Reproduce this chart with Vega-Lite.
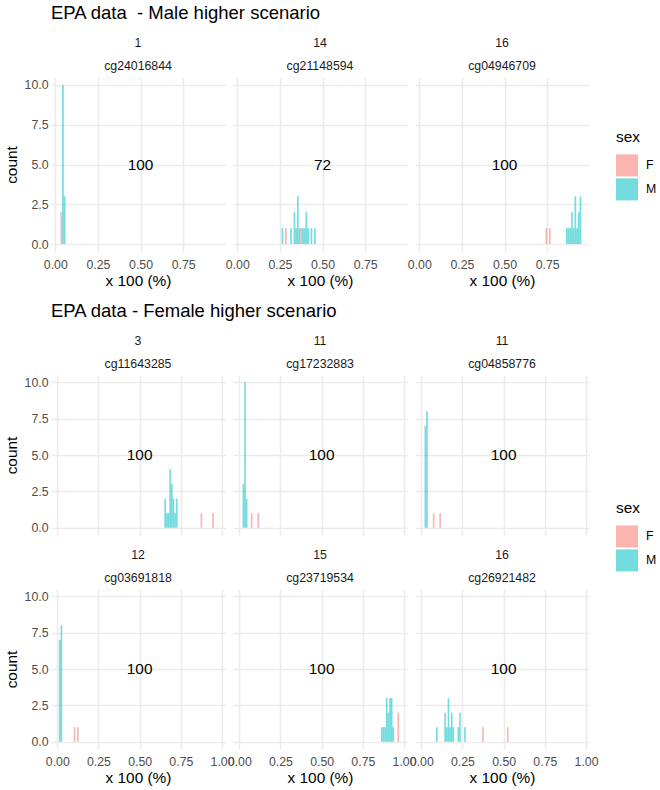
{
  "$schema": "https://vega.github.io/schema/vega-lite/v6.json",
  "background": "white",
  "padding": {"left": 4, "top": 4, "right": 0, "bottom": 0},
  "config": {
    "font": "Liberation Sans",
    "view": {"stroke": null},
    "axis": {
      "domain": false,
      "ticks": false,
      "gridColor": "#EBEBEB",
      "labelColor": "#4D4D4D",
      "labelFontSize": 12.3,
      "labelOverlap": false,
      "labelFlush": false,
      "titleFontSize": 15.4,
      "titleFontWeight": "normal",
      "titleColor": "black"
    },
    "header": {
      "title": null,
      "labelFontSize": 12.3,
      "labelColor": "#1A1A1A",
      "labelLineHeight": 23,
      "labelPadding": -8,
      "labelBaseline": "bottom"
    },
    "title": {
      "fontSize": 18.5,
      "fontWeight": "normal",
      "color": "black",
      "anchor": "start",
      "frame": "group"
    },
    "legend": {
      "titleFontSize": 15.4,
      "titleFontWeight": "normal",
      "titleColor": "black",
      "labelFontSize": 12.3,
      "labelColor": "black",
      "symbolType": "square",
      "symbolSize": 484,
      "symbolStrokeWidth": 0,
      "symbolOpacity": 0.55,
      "rowPadding": 2,
      "labelOffset": 8,
      "titlePadding": 9
    }
  },
  "datasets": {
    "male": [
      {"panel": "1|cg24016844", "lab": "100"},
      {"panel": "14|cg21148594", "lab": "72"},
      {"panel": "16|cg04946709", "lab": "100"},
      {"panel": "1|cg24016844", "sex": "F", "x": 0.03, "x2": 0.04, "count": 2},
      {"panel": "1|cg24016844", "sex": "M", "x": 0.04, "x2": 0.05, "count": 10},
      {"panel": "1|cg24016844", "sex": "M", "x": 0.05, "x2": 0.06, "count": 3},
      {"panel": "14|cg21148594", "sex": "M", "x": 0.26, "x2": 0.27, "count": 1},
      {"panel": "14|cg21148594", "sex": "F", "x": 0.28, "x2": 0.29, "count": 1},
      {"panel": "14|cg21148594", "sex": "M", "x": 0.31, "x2": 0.32, "count": 1},
      {"panel": "14|cg21148594", "sex": "M", "x": 0.33, "x2": 0.34, "count": 2},
      {"panel": "14|cg21148594", "sex": "M", "x": 0.34, "x2": 0.35, "count": 1},
      {"panel": "14|cg21148594", "sex": "M", "x": 0.35, "x2": 0.36, "count": 3},
      {"panel": "14|cg21148594", "sex": "M", "x": 0.36, "x2": 0.37, "count": 1},
      {"panel": "14|cg21148594", "sex": "F", "x": 0.37, "x2": 0.38, "count": 1},
      {"panel": "14|cg21148594", "sex": "M", "x": 0.38, "x2": 0.39, "count": 1},
      {"panel": "14|cg21148594", "sex": "M", "x": 0.39, "x2": 0.40, "count": 1},
      {"panel": "14|cg21148594", "sex": "M", "x": 0.40, "x2": 0.41, "count": 2},
      {"panel": "14|cg21148594", "sex": "M", "x": 0.41, "x2": 0.42, "count": 1},
      {"panel": "14|cg21148594", "sex": "M", "x": 0.43, "x2": 0.44, "count": 1},
      {"panel": "14|cg21148594", "sex": "M", "x": 0.45, "x2": 0.46, "count": 1},
      {"panel": "16|cg04946709", "sex": "F", "x": 0.74, "x2": 0.75, "count": 1},
      {"panel": "16|cg04946709", "sex": "F", "x": 0.76, "x2": 0.77, "count": 1},
      {"panel": "16|cg04946709", "sex": "M", "x": 0.86, "x2": 0.87, "count": 1},
      {"panel": "16|cg04946709", "sex": "M", "x": 0.87, "x2": 0.88, "count": 1},
      {"panel": "16|cg04946709", "sex": "M", "x": 0.88, "x2": 0.89, "count": 1},
      {"panel": "16|cg04946709", "sex": "M", "x": 0.89, "x2": 0.90, "count": 2},
      {"panel": "16|cg04946709", "sex": "M", "x": 0.90, "x2": 0.91, "count": 1},
      {"panel": "16|cg04946709", "sex": "M", "x": 0.91, "x2": 0.92, "count": 3},
      {"panel": "16|cg04946709", "sex": "M", "x": 0.92, "x2": 0.93, "count": 1},
      {"panel": "16|cg04946709", "sex": "M", "x": 0.93, "x2": 0.94, "count": 2},
      {"panel": "16|cg04946709", "sex": "M", "x": 0.94, "x2": 0.95, "count": 3}
    ],
    "female": [
      {"panel": "3|cg11643285", "lab": "100"},
      {"panel": "11|cg17232883", "lab": "100"},
      {"panel": "11|cg04858776", "lab": "100"},
      {"panel": "12|cg03691818", "lab": "100"},
      {"panel": "15|cg23719534", "lab": "100"},
      {"panel": "16|cg26921482", "lab": "100"},
      {"panel": "3|cg11643285", "sex": "M", "x": 0.65, "x2": 0.66, "count": 2},
      {"panel": "3|cg11643285", "sex": "M", "x": 0.66, "x2": 0.67, "count": 1},
      {"panel": "3|cg11643285", "sex": "M", "x": 0.67, "x2": 0.68, "count": 1},
      {"panel": "3|cg11643285", "sex": "M", "x": 0.68, "x2": 0.69, "count": 4},
      {"panel": "3|cg11643285", "sex": "M", "x": 0.69, "x2": 0.70, "count": 3},
      {"panel": "3|cg11643285", "sex": "M", "x": 0.70, "x2": 0.71, "count": 2},
      {"panel": "3|cg11643285", "sex": "M", "x": 0.71, "x2": 0.72, "count": 1},
      {"panel": "3|cg11643285", "sex": "M", "x": 0.72, "x2": 0.73, "count": 2},
      {"panel": "3|cg11643285", "sex": "F", "x": 0.87, "x2": 0.88, "count": 1},
      {"panel": "3|cg11643285", "sex": "F", "x": 0.94, "x2": 0.95, "count": 1},
      {"panel": "11|cg17232883", "sex": "M", "x": 0.02, "x2": 0.03, "count": 3},
      {"panel": "11|cg17232883", "sex": "M", "x": 0.03, "x2": 0.04, "count": 10},
      {"panel": "11|cg17232883", "sex": "M", "x": 0.04, "x2": 0.05, "count": 2},
      {"panel": "11|cg17232883", "sex": "F", "x": 0.07, "x2": 0.08, "count": 1},
      {"panel": "11|cg17232883", "sex": "F", "x": 0.11, "x2": 0.12, "count": 1},
      {"panel": "11|cg04858776", "sex": "M", "x": 0.02, "x2": 0.03, "count": 7},
      {"panel": "11|cg04858776", "sex": "M", "x": 0.03, "x2": 0.04, "count": 8},
      {"panel": "11|cg04858776", "sex": "F", "x": 0.07, "x2": 0.08, "count": 1},
      {"panel": "11|cg04858776", "sex": "F", "x": 0.11, "x2": 0.12, "count": 1},
      {"panel": "12|cg03691818", "sex": "M", "x": 0.01, "x2": 0.02, "count": 7},
      {"panel": "12|cg03691818", "sex": "M", "x": 0.02, "x2": 0.03, "count": 8},
      {"panel": "12|cg03691818", "sex": "F", "x": 0.10, "x2": 0.11, "count": 1},
      {"panel": "12|cg03691818", "sex": "F", "x": 0.12, "x2": 0.13, "count": 1},
      {"panel": "15|cg23719534", "sex": "M", "x": 0.86, "x2": 0.87, "count": 1},
      {"panel": "15|cg23719534", "sex": "M", "x": 0.87, "x2": 0.88, "count": 1},
      {"panel": "15|cg23719534", "sex": "M", "x": 0.88, "x2": 0.89, "count": 1},
      {"panel": "15|cg23719534", "sex": "M", "x": 0.89, "x2": 0.90, "count": 3},
      {"panel": "15|cg23719534", "sex": "M", "x": 0.90, "x2": 0.91, "count": 2},
      {"panel": "15|cg23719534", "sex": "M", "x": 0.91, "x2": 0.92, "count": 3},
      {"panel": "15|cg23719534", "sex": "M", "x": 0.92, "x2": 0.93, "count": 3},
      {"panel": "15|cg23719534", "sex": "M", "x": 0.93, "x2": 0.94, "count": 1},
      {"panel": "15|cg23719534", "sex": "F", "x": 0.96, "x2": 0.97, "count": 2},
      {"panel": "16|cg26921482", "sex": "M", "x": 0.09, "x2": 0.10, "count": 1},
      {"panel": "16|cg26921482", "sex": "M", "x": 0.14, "x2": 0.15, "count": 2},
      {"panel": "16|cg26921482", "sex": "M", "x": 0.15, "x2": 0.16, "count": 1},
      {"panel": "16|cg26921482", "sex": "M", "x": 0.16, "x2": 0.17, "count": 3},
      {"panel": "16|cg26921482", "sex": "M", "x": 0.17, "x2": 0.18, "count": 1},
      {"panel": "16|cg26921482", "sex": "M", "x": 0.18, "x2": 0.19, "count": 2},
      {"panel": "16|cg26921482", "sex": "M", "x": 0.19, "x2": 0.20, "count": 1},
      {"panel": "16|cg26921482", "sex": "M", "x": 0.22, "x2": 0.23, "count": 1},
      {"panel": "16|cg26921482", "sex": "M", "x": 0.23, "x2": 0.24, "count": 2},
      {"panel": "16|cg26921482", "sex": "M", "x": 0.26, "x2": 0.27, "count": 1},
      {"panel": "16|cg26921482", "sex": "F", "x": 0.37, "x2": 0.38, "count": 1},
      {"panel": "16|cg26921482", "sex": "F", "x": 0.52, "x2": 0.53, "count": 1}
    ]
  },
  "vconcat": [
    {
      "data": {"name": "male"},
      "title": {"text": "EPA data \u00a0- Male higher scenario", "offset": 14},
      "facet": {
        "field": "panel", "type": "nominal",
        "sort": ["1|cg24016844", "14|cg21148594", "16|cg04946709"],
        "header": {"labelExpr": "split(datum.value, '|')"}
      },
      "columns": 3,
      "spacing": {"column": 8, "row": 10},
      "spec": {
        "width": 174,
        "height": 175,
        "resolve": {"axis": {"x": "independent", "y": "independent"}},
        "layer": [
          {
            "transform": [{"filter": "isValid(datum.count)"}],
            "mark": {"type": "rect", "opacity": 0.55},
            "encoding": {
              "x": {
                "field": "x", "type": "quantitative",
                "scale": {"domain": [-0.025, 0.995], "nice": false, "zero": false},
                "axis": {
                  "title": "x 100 (%)",
                  "orient": "bottom",
                  "values": [0, 0.25, 0.5, 0.75],
                  "format": ".2f",
                  "gridWidth": 1.5,
                  "labelPadding": 6,
                  "titlePadding": 3
                }
              },
              "x2": {"field": "x2"},
              "y": {
                "field": "count", "type": "quantitative",
                "scale": {"domain": [-0.5, 10.5], "nice": false, "zero": false},
                "axis": {
                  "title": "count",
                  "orient": "left",
                  "values": [0, 2.5, 5, 7.5, 10],
                  "format": ".1f",
                  "gridWidth": 1.5,
                  "labelPadding": 3,
                  "titlePadding": 5
                }
              },
              "y2": {"datum": 0},
              "color": {
                "field": "sex", "type": "nominal",
                "scale": {"domain": ["F", "M"], "range": ["#F8766D", "#00BFC4"]},
                "legend": {"title": "sex", "orient": "none", "legendX": 565, "legendY": 53}
              }
            }
          },
          {
            "transform": [{"filter": "isValid(datum.lab)"}],
            "mark": {"type": "text", "fontSize": 15.4, "color": "black", "align": "center", "baseline": "middle"},
            "encoding": {
              "x": {
                "datum": 0.5, "type": "quantitative",
                "axis": {"orient": "bottom", "title": null, "labels": false, "values": [0.125, 0.375, 0.625, 0.875], "gridWidth": 0.8}
              },
              "y": {
                "datum": 5, "type": "quantitative",
                "axis": {"orient": "left", "title": null, "labels": false, "values": [1.25, 3.75, 6.25, 8.75], "gridWidth": 0.8}
              },
              "text": {"field": "lab"}
            }
          }
        ]
      }
    },
    {
      "data": {"name": "female"},
      "title": {"text": "EPA data - Female higher scenario", "offset": 14},
      "facet": {
        "field": "panel", "type": "nominal",
        "sort": ["3|cg11643285", "11|cg17232883", "11|cg04858776", "12|cg03691818", "15|cg23719534", "16|cg26921482"],
        "header": {"labelExpr": "split(datum.value, '|')"}
      },
      "columns": 3,
      "spacing": {"column": 8, "row": 13},
      "spec": {
        "width": 174,
        "height": 160,
        "resolve": {"axis": {"x": "independent", "y": "independent"}},
        "layer": [
          {
            "transform": [{"filter": "isValid(datum.count)"}],
            "mark": {"type": "rect", "opacity": 0.55},
            "encoding": {
              "x": {
                "field": "x", "type": "quantitative",
                "scale": {"domain": [-0.038, 1.018], "nice": false, "zero": false},
                "axis": {
                  "title": "x 100 (%)",
                  "orient": "bottom",
                  "values": [0, 0.25, 0.5, 0.75, 1],
                  "format": ".2f",
                  "gridWidth": 1.5,
                  "labelPadding": 6,
                  "titlePadding": 3
                }
              },
              "x2": {"field": "x2"},
              "y": {
                "field": "count", "type": "quantitative",
                "scale": {"domain": [-0.5, 10.5], "nice": false, "zero": false},
                "axis": {
                  "title": "count",
                  "orient": "left",
                  "values": [0, 2.5, 5, 7.5, 10],
                  "format": ".1f",
                  "gridWidth": 1.5,
                  "labelPadding": 3,
                  "titlePadding": 5
                }
              },
              "y2": {"datum": 0},
              "color": {
                "field": "sex", "type": "nominal",
                "scale": {"domain": ["F", "M"], "range": ["#F8766D", "#00BFC4"]},
                "legend": {"title": "sex", "orient": "none", "legendX": 565, "legendY": 126}
              }
            }
          },
          {
            "transform": [{"filter": "isValid(datum.lab)"}],
            "mark": {"type": "text", "fontSize": 15.4, "color": "black", "align": "center", "baseline": "middle"},
            "encoding": {
              "x": {
                "datum": 0.5, "type": "quantitative",
                "axis": {"orient": "bottom", "title": null, "labels": false, "values": [0.125, 0.375, 0.625, 0.875], "gridWidth": 0.8}
              },
              "y": {
                "datum": 5, "type": "quantitative",
                "axis": {"orient": "left", "title": null, "labels": false, "values": [1.25, 3.75, 6.25, 8.75], "gridWidth": 0.8}
              },
              "text": {"field": "lab"}
            }
          }
        ]
      }
    }
  ],
  "spacing": 13,
  "resolve": {"legend": {"color": "independent"}}
}
